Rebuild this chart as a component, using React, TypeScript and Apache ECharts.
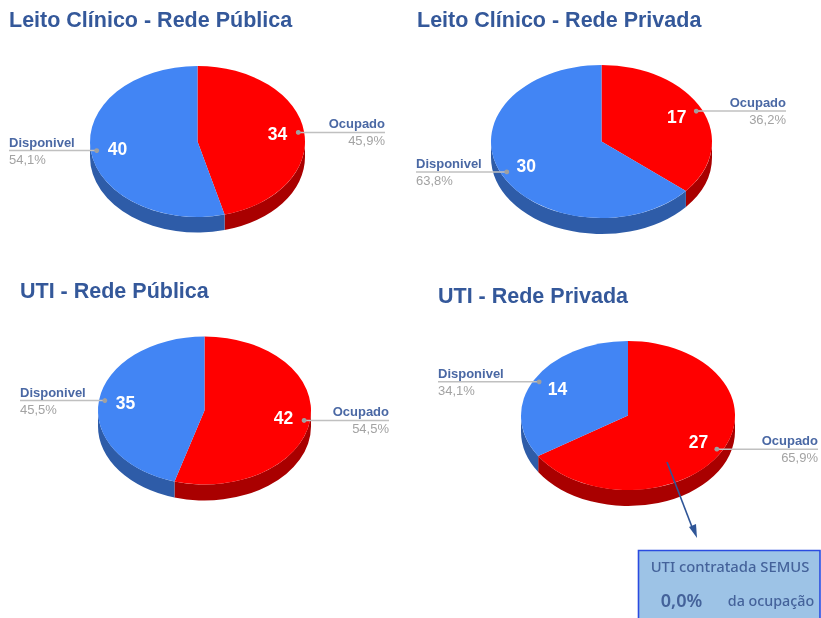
import React, { useEffect, useRef } from "react";
import * as echarts from "echarts";

const sliceNames = ["Ocupado", "Disponivel"];
const sliceColors = ["#ff0000", "#4285f4"];
const rimColors = ["#a90000", "#2e5ca8"];

const titles = ["Leito Clínico - Rede Pública", "Leito Clínico - Rede Privada", "UTI - Rede Pública", "UTI - Rede Privada"];
const leitoPublica = [34, 40];
const leitoPrivada = [17, 30];
const utiPublica = [42, 35];
const utiPrivada = [27, 14];
const pieValues = [leitoPublica, leitoPrivada, utiPublica, utiPrivada];

// layout: title position, pie centre, radii and the outer ends of the leader lines
const titleAt = [[9, 9], [417, 9], [20, 280], [438, 285]];
const pieBox = [
  { cx: 197.5, cy: 141.5, rx: 107.5, ry: 75.5, depth: 15.5 },
  { cx: 601.5, cy: 141.5, rx: 110.5, ry: 76.5, depth: 16 },
  { cx: 204.5, cy: 410.5, rx: 106.5, ry: 74, depth: 16 },
  { cx: 628, cy: 415.5, rx: 107, ry: 74.5, depth: 16 },
];
const leaderEnds = [[385, 9], [786, 416], [389, 20], [818, 438]];

const calloutTitle = "UTI contratada SEMUS";
const calloutValue = "0,0%";
const calloutNote = "da ocupação";

const TITLE_COLOR = "#34589a";
const LABEL_COLOR = "#4a68a4";
const PCT_COLOR = "#a3a3a3";
const FONT = "'Liberation Sans', Arial, sans-serif";

function point(b: any, a: number, f = 1, dy = 0) {
  return [b.cx + b.rx * f * Math.sin(a), b.cy - b.ry * f * Math.cos(a) + dy];
}

function makeRenderItem(pie: number) {
  const box = pieBox[pie];
  const ends = leaderEnds[pie];
  return (params: any, api: any) => {
    const i = params.dataIndex;
    const total = pieValues[pie].reduce((s, v) => s + v, 0);
    const before = pieValues[pie].slice(0, i).reduce((s, v) => s + v, 0);
    const value = api.value(0);
    const a0 = (before / total) * 2 * Math.PI;
    const a1 = ((before + value) / total) * 2 * Math.PI;
    const mid = (a0 + a1) / 2;
    const children: any[] = [];

    // visible front rim: the part of the slice between 90° and 270°
    const r0 = Math.max(a0, Math.PI / 2);
    const r1 = Math.min(a1, (3 * Math.PI) / 2);
    if (r1 > r0) {
      const p = point(box, r0);
      const q = point(box, r1);
      const q2 = point(box, r1, 1, box.depth);
      const p2 = point(box, r0, 1, box.depth);
      const d = `M${p[0]} ${p[1]}A${box.rx} ${box.ry} 0 0 1 ${q[0]} ${q[1]}L${q2[0]} ${q2[1]}A${box.rx} ${box.ry} 0 0 0 ${p2[0]} ${p2[1]}Z`;
      children.push({ type: "path", shape: { pathData: d }, style: { fill: rimColors[i] }, z2: 1 });
    }

    // top face
    const s = point(box, a0);
    const e = point(box, a1);
    const large = a1 - a0 > Math.PI ? 1 : 0;
    children.push({
      type: "path",
      shape: { pathData: `M${box.cx} ${box.cy}L${s[0]} ${s[1]}A${box.rx} ${box.ry} 0 ${large} 1 ${e[0]} ${e[1]}Z` },
      style: { fill: sliceColors[i] },
      z2: 2,
    });

    // value inside the slice
    const vp = point(box, mid, 0.75);
    children.push({
      type: "text",
      z2: 10,
      style: { x: vp[0], y: vp[1], text: String(value), fill: "#ffffff", font: `bold 17.5px ${FONT}`, align: "center", verticalAlign: "middle" },
    });

    // leader line with name above it and share below it
    const dot = point(box, mid, 0.945);
    const onRight = Math.sin(mid) > 0;
    const endX = onRight ? ends[0] : ends[1];
    children.push({
      type: "line",
      z2: 9,
      shape: { x1: dot[0], y1: dot[1], x2: endX, y2: dot[1] },
      style: { stroke: "#c0c0c0", lineWidth: 1.5 },
    });
    children.push({ type: "circle", z2: 9, shape: { cx: dot[0], cy: dot[1], r: 2.4 }, style: { fill: "#a0a0a0" } });
    const align = onRight ? "right" : "left";
    children.push({
      type: "text",
      z2: 10,
      style: { x: endX, y: dot[1] - 8.5, text: sliceNames[i], fill: LABEL_COLOR, font: `bold 13px ${FONT}`, align, verticalAlign: "middle" },
    });
    const pct = ((value / total) * 100).toFixed(1).replace(".", ",") + "%";
    children.push({
      type: "text",
      z2: 10,
      style: { x: endX, y: dot[1] + 8.5, text: pct, fill: PCT_COLOR, font: `13px ${FONT}`, align, verticalAlign: "middle" },
    });

    return { type: "group", children };
  };
}

export default function App() {
  const ref = useRef<HTMLDivElement>(null);
  useEffect(() => {
    document.body.style.margin = "0";
    const chart = echarts.init(ref.current!, null, { renderer: "svg" });
    chart.setOption({
      animation: false,
      backgroundColor: "#ffffff",
      title: titles.map((text, i) => ({
        text,
        left: titleAt[i][0],
        top: titleAt[i][1],
        padding: 0,
        textStyle: { color: TITLE_COLOR, fontFamily: FONT, fontWeight: "bold", fontSize: 21.5, lineHeight: 22 },
      })),
      series: pieValues.map((values, pie) => ({
        type: "custom",
        coordinateSystem: "none",
        silent: true,
        renderItem: makeRenderItem(pie),
        data: values.map((v, i) => ({ name: sliceNames[i], value: [v, i] })),
      })),
      graphic: [
        { type: "line", z: 20, shape: { x1: 667, y1: 462, x2: 692, y2: 527 }, style: { stroke: "#2f5597", lineWidth: 1.6 } },
        { type: "polygon", z: 20, shape: { points: [[697, 538], [689, 527], [696, 524]] }, style: { fill: "#2f5597" } },
        { type: "rect", z: 20, shape: { x: 638.5, y: 550.5, width: 181.5, height: 72 }, style: { fill: "#9dc3e6", stroke: "#2a4be0", lineWidth: 1.6 } },
        { type: "text", z: 21, style: { x: 730, y: 566, text: calloutTitle, fill: "#44629a", font: `500 14.8px "Noto Sans", sans-serif`, align: "center", verticalAlign: "middle" } },
        { type: "text", z: 21, style: { x: 681.5, y: 600, text: calloutValue, fill: "#44629a", font: `600 18px "Noto Sans", sans-serif`, align: "center", verticalAlign: "middle" } },
        { type: "text", z: 21, style: { x: 771, y: 600, text: calloutNote, fill: "#44629a", font: `500 14.3px "Noto Sans", sans-serif`, align: "center", verticalAlign: "middle" } },
      ],
    });
    return () => chart.dispose();
  }, []);
  return <div ref={ref} style={{ width: 821, height: 618, filter: "blur(0.45px)" }} />;
}
